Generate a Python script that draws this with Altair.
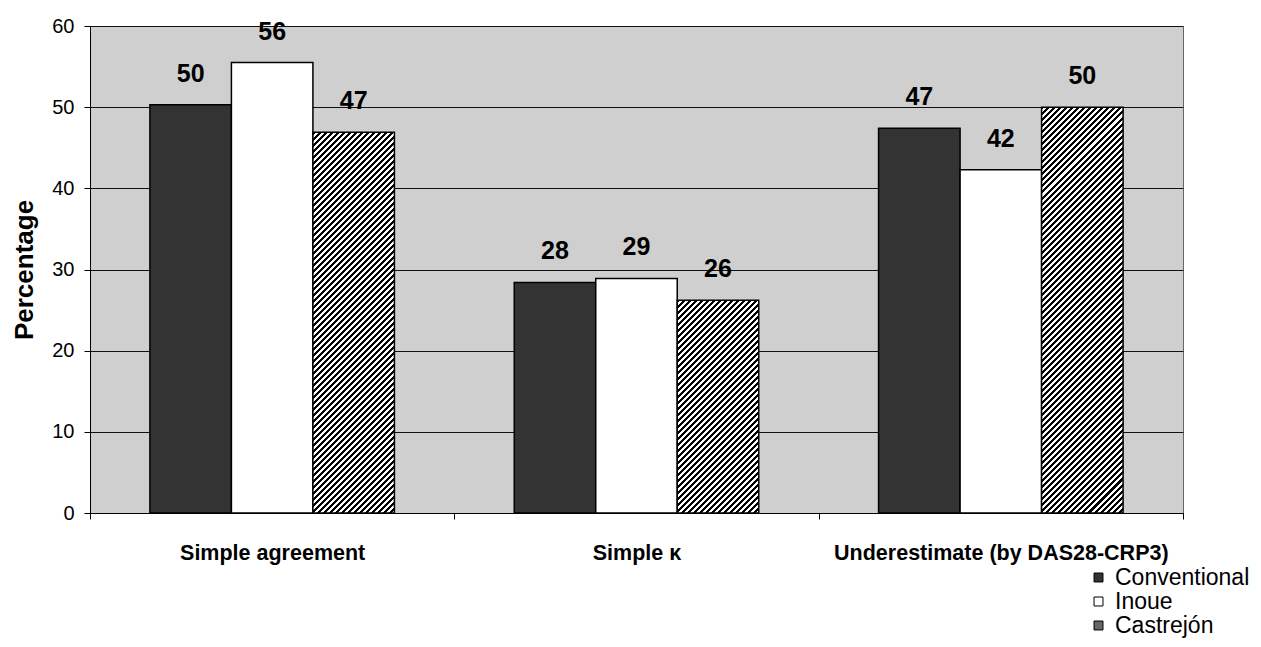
import altair as alt
import pandas as pd

# ---- data ----
categories = ["Simple agreement", "Simple κ", "Underestimate (by DAS28-CRP3)"]
series = ["Conventional", "Inoue", "Castrejón"]
conventional = [50.3, 28.4, 47.4]
inoue = [55.5, 28.9, 42.3]
castrejon = [46.9, 26.2, 50.0]
conventional_labels = ["50", "28", "47"]
inoue_labels = ["56", "29", "42"]
castrejon_labels = ["47", "26", "50"]
y_ticks = [0, 10, 20, 30, 40, 50, 60]

rows = []
for s, vals, labs in zip(series, [conventional, inoue, castrejon],
                         [conventional_labels, inoue_labels, castrejon_labels]):
    for c, v, l in zip(categories, vals, labs):
        rows.append({"category": c, "series": s, "value": v, "label": l})
df = pd.DataFrame(rows)

# ---- layout ----
W, H = 1093, 487
YMAX = 60
FONT = "Liberation Sans"
OUTER = 0.735
bar_w = (W / 3) / (3 + 2 * OUTER)


def hatch(h, w=bar_w, period=6.0):
    """Diagonal '////' stripe fill as a linear gradient over the bar's box."""
    n = max(1, round((w + h) / period))
    stops = []
    for k in range(n):
        a, b, c = k / n, (k + 0.5) / n, (k + 1) / n
        stops += [
            {"offset": a, "color": "#000000"},
            {"offset": b, "color": "#000000"},
            {"offset": b, "color": "#ffffff"},
            {"offset": c, "color": "#ffffff"},
        ]
    d = w * w + h * h
    return {"gradient": "linear", "x1": 0, "y1": 0,
            "x2": (w + h) * w / d, "y2": (w + h) * h / d, "stops": stops}


conds = [
    {"test": f"datum.series === 'Castrejón' && datum.category === '{c}'",
     "value": hatch(v / YMAX * H)}
    for c, v in zip(categories, castrejon)
]

x_enc = alt.X(
    "category:N", sort=categories,
    scale=alt.Scale(paddingInner=0, paddingOuter=0),
    axis=alt.Axis(title=None, tickBand="extent", labelAngle=0, labelLimit=0,
                  labelFont=FONT, labelFontSize=21.5, labelFontWeight="bold",
                  labelColor="black", labelPadding=23,
                  domainColor="black", domainWidth=1,
                  tickColor="black", tickSize=6, grid=False),
)
xoff_enc = alt.XOffset("series:N", sort=series,
                       scale=alt.Scale(paddingInner=0, paddingOuter=OUTER))
y_enc = alt.Y(
    "value:Q", scale=alt.Scale(domain=[0, YMAX], nice=False),
    axis=alt.Axis(values=y_ticks, title="Percentage",
                  titleFont=FONT, titleFontSize=26, titleFontWeight="bold",
                  titleColor="black", titlePadding=14,
                  labelFont=FONT, labelFontSize=20, labelColor="black",
                  labelPadding=10, tickColor="black", tickSize=6,
                  domainColor="black", grid=True, gridColor="#111111",
                  gridOpacity=1, gridWidth=1),
)

base = alt.Chart(df).encode(x=x_enc, xOffset=xoff_enc, y=y_enc)

bars = base.mark_bar(stroke="black", strokeWidth=1.5).encode(
    color=alt.Color(
        "series:N",
        scale=alt.Scale(domain=series, range=["#333333", "#ffffff", "#666666"]),
        legend=alt.Legend(title=None, orient="none", legendX=997, legendY=540,
                          symbolType="square", symbolSize=80,
                          symbolStrokeColor="black", symbolStrokeWidth=1,
                          labelFont=FONT, labelFontSize=23, labelColor="black",
                          rowPadding=0, labelOffset=5),
        condition=conds,
    )
)

texts = base.mark_text(baseline="alphabetic", dy=-23, font=FONT, fontSize=25,
                       fontWeight="bold", color="black").encode(text="label:N")

chart = (
    alt.layer(bars, texts)
    .properties(width=W, height=H,
                autosize=alt.AutoSizeParams(type="none"),
                padding={"left": 82, "top": 18, "right": 70, "bottom": 126})
    .configure(background="white",
               view=alt.ViewConfig(fill="#cfcfcf", stroke="#666666", strokeWidth=1))
)

chart.save("out.html", embed_options={"renderer": "svg", "actions": False})
